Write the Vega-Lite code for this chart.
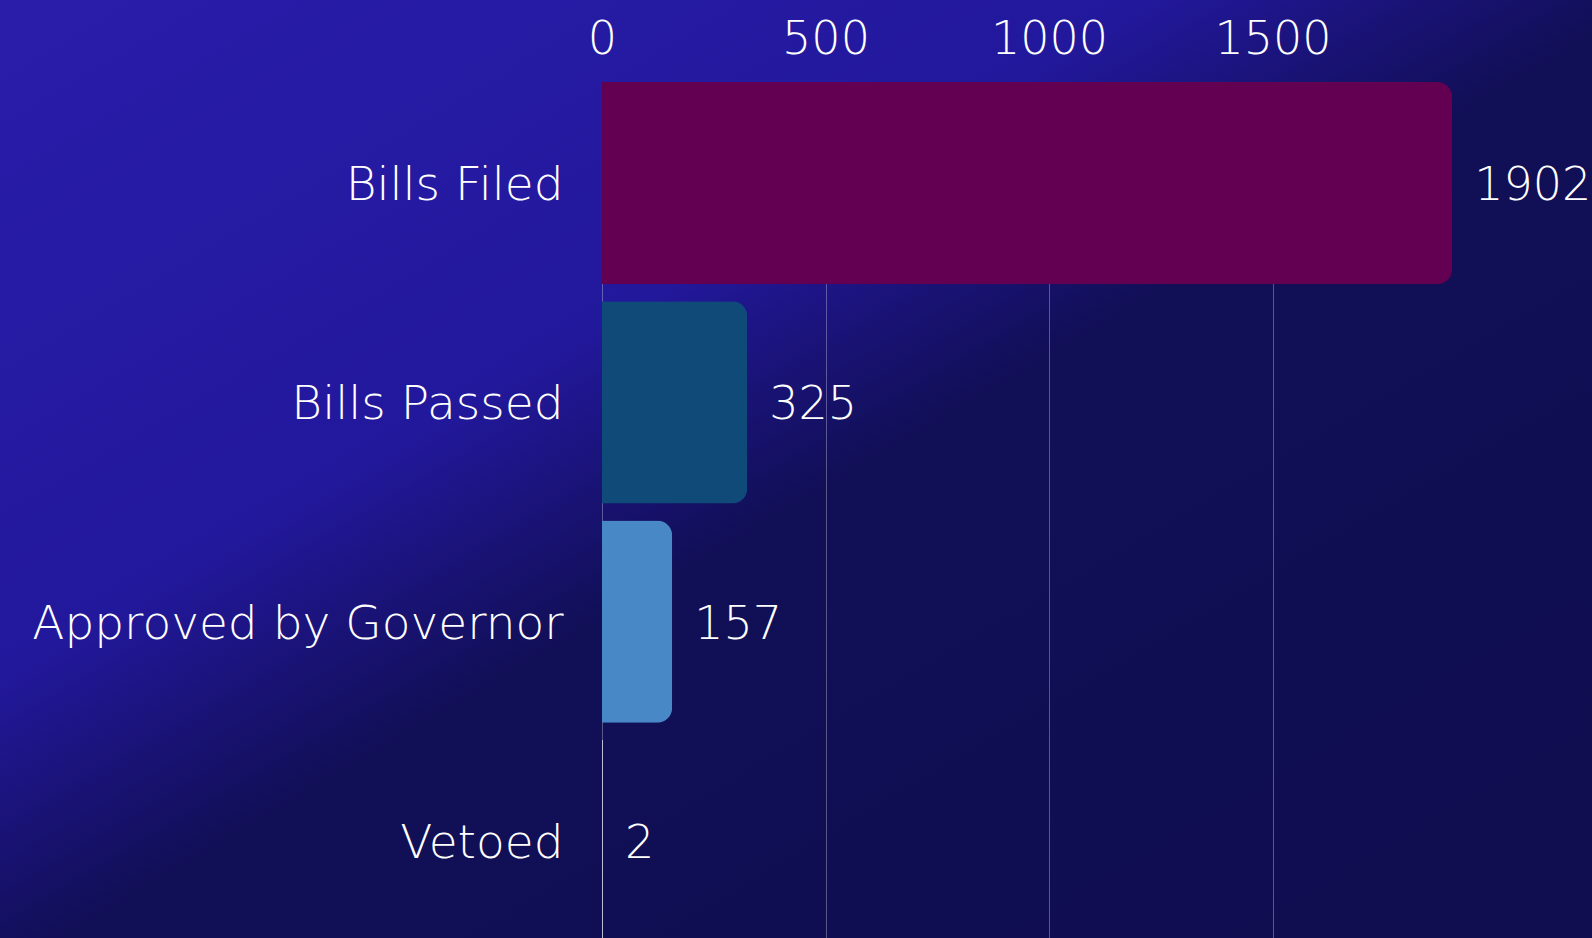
{
  "$schema": "https://vega.github.io/schema/vega-lite/v6.json",
  "width": 1592,
  "height": 938,
  "autosize": {"type": "none"},
  "padding": 0,
  "background": "#100f50",
  "config": {
    "view": {
      "stroke": null,
      "fill": {
        "gradient": "linear",
        "x1": 0, "y1": 0, "x2": 1, "y2": 1,
        "stops": [
          {"offset": 0, "color": "#291daa"},
          {"offset": 0.36, "color": "#22189c"},
          {"offset": 0.44, "color": "#1a1378"},
          {"offset": 0.52, "color": "#110f56"},
          {"offset": 1, "color": "#100e50"}
        ]
      }
    },
    "font": "DejaVu Sans",
    "text": {"font": "DejaVu Sans"}
  },
  "data": {
    "values": [
      {"category": "Bills Filed", "count": 1902},
      {"category": "Bills Passed", "count": 325},
      {"category": "Approved by Governor", "count": 157},
      {"category": "Vetoed", "count": 2}
    ]
  },
  "encoding": {
    "y": {
      "field": "category",
      "type": "nominal",
      "sort": null,
      "scale": {"range": [82, 942], "paddingInner": 0.078, "paddingOuter": 0},
      "axis": {
        "title": null,
        "orient": "left",
        "offset": -563,
        "domain": false,
        "ticks": false,
        "tickSize": 0,
        "labelPadding": 0,
        "labelFont": "DejaVu Sans",
        "labelFontSize": 47,
        "labelFontWeight": 200,
        "labelColor": "#ffffff",
        "labelLimit": 0,
        "labelOffset": 3,
        "grid": false
      }
    }
  },
  "layer": [
    {
      "mark": {"type": "bar", "cornerRadiusEnd": 15},
      "encoding": {
        "x": {
          "field": "count",
          "type": "quantitative",
          "scale": {"domain": [0, 2000], "range": [602, 1496], "nice": false, "zero": true},
          "axis": {
            "title": null,
            "orient": "top",
            "offset": -82,
            "values": [0, 500, 1000, 1500],
            "format": "d",
            "domain": false,
            "ticks": false,
            "tickSize": 0,
            "labelPadding": 29,
            "labelBaseline": "alphabetic",
            "labelFont": "DejaVu Sans",
            "labelFontSize": 46,
            "labelFontWeight": 200,
            "labelColor": "#ffffff",
            "labelFlush": false,
            "labelOverlap": false,
            "grid": true,
            "gridColor": "#ffffff",
            "gridOpacity": 0.3,
            "gridWidth": 1
          }
        },
        "color": {
          "field": "category",
          "type": "nominal",
          "sort": null,
          "legend": null,
          "scale": {
            "domain": ["Bills Filed", "Bills Passed", "Approved by Governor", "Vetoed"],
            "range": ["#640052", "#0f4a78", "#4888c7", "#d8d8e8"]
          }
        }
      }
    },
    {
      "mark": {
        "type": "text",
        "align": "left",
        "baseline": "middle",
        "dx": 22,
        "dy": 3,
        "fontSize": 46,
        "fontWeight": 200,
        "font": "DejaVu Sans",
        "color": "#ffffff"
      },
      "encoding": {
        "x": {"field": "count", "type": "quantitative"},
        "text": {"field": "count", "type": "quantitative"}
      }
    }
  ]
}
